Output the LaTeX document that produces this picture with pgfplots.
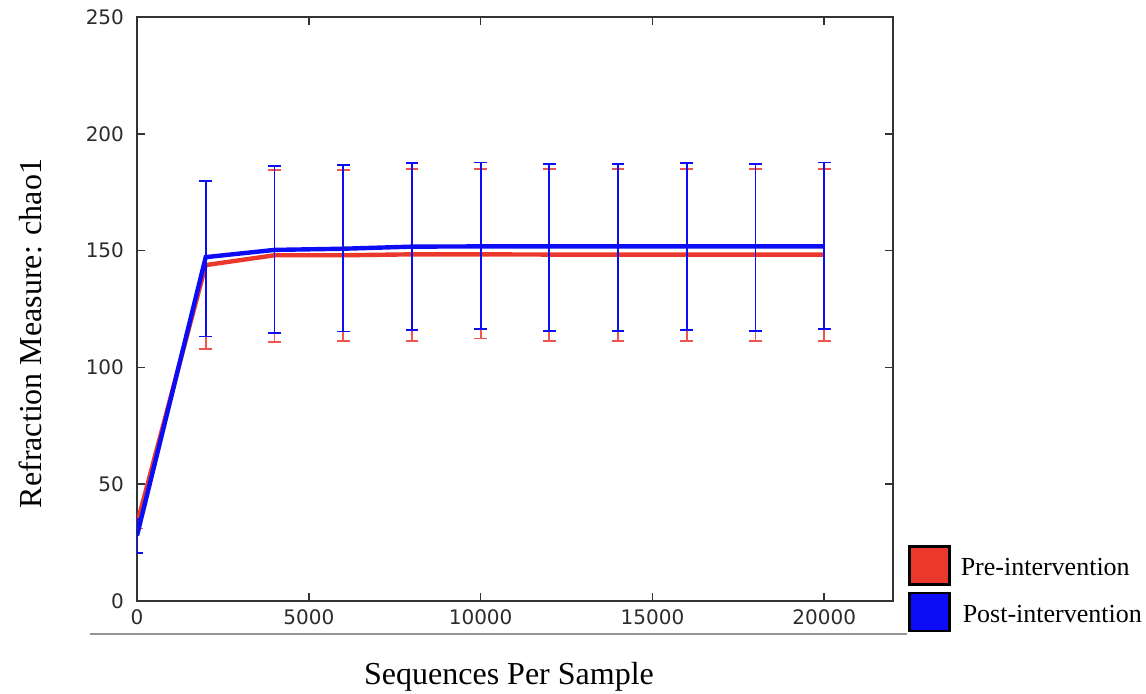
\documentclass[border=0pt]{standalone}
\usepackage{pgfplots}
\pgfplotsset{compat=1.18}
\usepackage{fontspec}
\setmainfont{Liberation Serif}
\newfontfamily\ticksf{DejaVu Sans}

\definecolor{prered}{RGB}{234,56,44}
\definecolor{postblue}{RGB}{12,12,245}
\definecolor{axgray}{RGB}{51,51,51}

\begin{document}
\begin{tikzpicture}
\path[use as bounding box] (-68.5pt,-46pt) rectangle (504.5pt,300.5pt);
\begin{axis}[
    scale only axis,
    width=378pt, height=292pt,
    xmin=0, xmax=22000,
    ymin=0, ymax=250,
    xtick={0,5000,10000,15000,20000},
    ytick={0,50,100,150,200,250},
    scaled x ticks=false,
    /pgf/number format/1000 sep={},
    /pgf/number format/assume math mode=true,
    tick label style={font=\ticksf\fontsize{10}{12}\selectfont, text=axgray!85!black},
    xticklabel style={yshift=-1pt},
    yticklabel style={xshift=-3pt},
    tick align=inside,
    major tick length=4pt,
    tick style={axgray, line width=0.8pt},
    axis line style={axgray, line width=1pt},
    legend style={at={(1.0198,0.0959)}, anchor=north west, draw=none, fill=none,
        inner sep=0pt, row sep=3pt, column sep=5pt,
        font=\fontsize{13}{15}\selectfont,
        nodes={inner sep=0pt}},
    legend cell align=left,
    legend image code/.code={\draw[#1] (0pt,-9.5pt) rectangle (20pt,9.5pt);},
]
\addplot[prered, line width=2.2pt, forget plot,
    error bars/.cd, y dir=both, y explicit,
    error bar style={line width=0.9pt, prered!85!white},
    error mark options={rotate=90, mark size=3.2pt, line width=0.9pt, prered!85!white}]
coordinates {
(0,33) += (0,2) -= (0,2)
(2000,143.8) += (0,36) -= (0,36)
(4000,148) += (0,36.5) -= (0,37)
(6000,148) += (0,36.5) -= (0,36.8)
(8000,148.4) += (0,36.5) -= (0,37.2)
(10000,148.4) += (0,36.4) -= (0,36)
(12000,148.3) += (0,36.6) -= (0,37)
(14000,148.3) += (0,36.6) -= (0,37)
(16000,148.3) += (0,36.6) -= (0,37)
(18000,148.3) += (0,36.6) -= (0,37)
(20000,148.3) += (0,36.6) -= (0,37)
};
\addplot[postblue, line width=2.2pt, forget plot,
    error bars/.cd, y dir=both, y explicit,
    error bar style={line width=0.9pt, postblue},
    error mark options={rotate=90, mark size=3.2pt, line width=0.9pt, postblue}]
coordinates {
(0,28) += (0,7) -= (0,7.5)
(2000,147.2) += (0,32.6) -= (0,34)
(4000,150.3) += (0,35.8) -= (0,35.6)
(6000,150.8) += (0,35.8) -= (0,35.4)
(8000,151.7) += (0,35.9) -= (0,35.7)
(10000,151.8) += (0,35.9) -= (0,35.5)
(12000,151.8) += (0,35.4) -= (0,36.2)
(14000,151.8) += (0,35.4) -= (0,36.2)
(16000,151.8) += (0,35.8) -= (0,35.9)
(18000,151.8) += (0,35.4) -= (0,36.2)
(20000,151.8) += (0,35.9) -= (0,35.5)
};
\addlegendimage{fill=prered, draw=black, line width=1.2pt}
\addlegendentry{\raisebox{-3pt}{Pre-intervention}}
\addlegendimage{fill=postblue, draw=black, line width=1.2pt}
\addlegendentry{\raisebox{-3.5pt}{\hspace{1pt}Post-intervention}}
\end{axis}
\draw[gray!85, line width=0.9pt] (-23.5pt,-16.5pt) -- (385pt,-16.5pt);
\node[anchor=base, font=\fontsize{16}{19}\selectfont] at (186pt,-41.5pt) {Sequences Per Sample};
\node[anchor=base, rotate=90, font=\fontsize{16}{19}\selectfont] at (-47.5pt,133.75pt) {Refraction Measure: chao1};
\end{tikzpicture}
\end{document}
